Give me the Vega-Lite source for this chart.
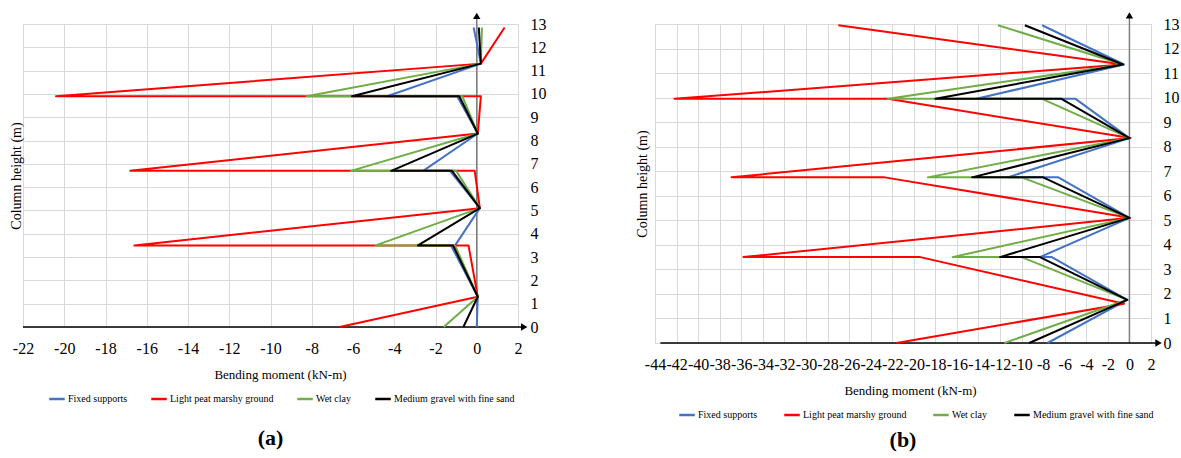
{
  "$schema": "https://vega.github.io/schema/vega-lite/v6.json",
  "background": "white",
  "padding": {"left": 8, "top": 11, "right": 0, "bottom": 0},
  "bounds": "flush",
  "spacing": 137,
  "config": {
    "view": {"stroke": "#d9d9d9", "strokeWidth": 1},
    "axis": {"domain": false, "ticks": false, "gridColor": "#d9d9d9", "gridWidth": 1, "labelFont": "Liberation Serif", "labelFontSize": 16, "labelColor": "#000000", "titleFont": "Liberation Serif", "titleFontWeight": "normal", "titleColor": "#000000", "labelOverlap": false, "labelFlush": false, "labelBound": false},
    "legend": {"labelFont": "Liberation Serif", "labelFontSize": 10, "labelColor": "#000000", "symbolType": "stroke", "symbolStrokeWidth": 2.5, "symbolSize": 240, "labelOffset": 2}
  },
  "datasets": {
    "a": [
      {"s": "Fixed supports", "i": 0, "m": 0, "h": 0},
      {"s": "Fixed supports", "i": 1, "m": 0.05, "h": 1.3},
      {"s": "Fixed supports", "i": 2, "m": -1.25, "h": 3.5},
      {"s": "Fixed supports", "i": 3, "m": -1.05, "h": 3.5},
      {"s": "Fixed supports", "i": 4, "m": 0.15, "h": 5.1},
      {"s": "Fixed supports", "i": 5, "m": -1.3, "h": 6.7},
      {"s": "Fixed supports", "i": 6, "m": -2.6, "h": 6.7},
      {"s": "Fixed supports", "i": 7, "m": 0.05, "h": 8.3},
      {"s": "Fixed supports", "i": 8, "m": -0.95, "h": 9.9},
      {"s": "Fixed supports", "i": 9, "m": -4.35, "h": 9.9},
      {"s": "Fixed supports", "i": 10, "m": 0.2, "h": 11.3},
      {"s": "Fixed supports", "i": 11, "m": -0.15, "h": 12.85},
      {"s": "Light peat marshy ground", "i": 0, "m": -6.65, "h": 0},
      {"s": "Light peat marshy ground", "i": 1, "m": 0.05, "h": 1.3},
      {"s": "Light peat marshy ground", "i": 2, "m": -0.4, "h": 3.5},
      {"s": "Light peat marshy ground", "i": 3, "m": -16.6, "h": 3.5},
      {"s": "Light peat marshy ground", "i": 4, "m": 0.15, "h": 5.1},
      {"s": "Light peat marshy ground", "i": 5, "m": -0.1, "h": 6.7},
      {"s": "Light peat marshy ground", "i": 6, "m": -16.8, "h": 6.7},
      {"s": "Light peat marshy ground", "i": 7, "m": 0.05, "h": 8.3},
      {"s": "Light peat marshy ground", "i": 8, "m": 0.2, "h": 9.9},
      {"s": "Light peat marshy ground", "i": 9, "m": -20.4, "h": 9.9},
      {"s": "Light peat marshy ground", "i": 10, "m": 0.2, "h": 11.3},
      {"s": "Light peat marshy ground", "i": 11, "m": 1.35, "h": 12.85},
      {"s": "Wet clay", "i": 0, "m": -1.6, "h": 0},
      {"s": "Wet clay", "i": 1, "m": 0.05, "h": 1.3},
      {"s": "Wet clay", "i": 2, "m": -1.05, "h": 3.5},
      {"s": "Wet clay", "i": 3, "m": -4.9, "h": 3.5},
      {"s": "Wet clay", "i": 4, "m": 0.15, "h": 5.1},
      {"s": "Wet clay", "i": 5, "m": -1.0, "h": 6.7},
      {"s": "Wet clay", "i": 6, "m": -6.1, "h": 6.7},
      {"s": "Wet clay", "i": 7, "m": 0.05, "h": 8.3},
      {"s": "Wet clay", "i": 8, "m": -0.7, "h": 9.9},
      {"s": "Wet clay", "i": 9, "m": -8.25, "h": 9.9},
      {"s": "Wet clay", "i": 10, "m": 0.2, "h": 11.3},
      {"s": "Wet clay", "i": 11, "m": 0.25, "h": 12.85},
      {"s": "Medium gravel with fine sand", "i": 0, "m": -0.65, "h": 0},
      {"s": "Medium gravel with fine sand", "i": 1, "m": 0.05, "h": 1.3},
      {"s": "Medium gravel with fine sand", "i": 2, "m": -1.15, "h": 3.5},
      {"s": "Medium gravel with fine sand", "i": 3, "m": -2.85, "h": 3.5},
      {"s": "Medium gravel with fine sand", "i": 4, "m": 0.15, "h": 5.1},
      {"s": "Medium gravel with fine sand", "i": 5, "m": -1.2, "h": 6.7},
      {"s": "Medium gravel with fine sand", "i": 6, "m": -4.15, "h": 6.7},
      {"s": "Medium gravel with fine sand", "i": 7, "m": 0.05, "h": 8.3},
      {"s": "Medium gravel with fine sand", "i": 8, "m": -0.85, "h": 9.9},
      {"s": "Medium gravel with fine sand", "i": 9, "m": -6.05, "h": 9.9},
      {"s": "Medium gravel with fine sand", "i": 10, "m": 0.2, "h": 11.3},
      {"s": "Medium gravel with fine sand", "i": 11, "m": 0.1, "h": 12.85}
    ],
    "b": [
      {"s": "Fixed supports", "i": 0, "m": -7.6, "h": 0},
      {"s": "Fixed supports", "i": 1, "m": -0.2, "h": 1.76},
      {"s": "Fixed supports", "i": 2, "m": -7.2, "h": 3.5},
      {"s": "Fixed supports", "i": 3, "m": -8.3, "h": 3.5},
      {"s": "Fixed supports", "i": 4, "m": 0, "h": 5.1},
      {"s": "Fixed supports", "i": 5, "m": -6.6, "h": 6.75},
      {"s": "Fixed supports", "i": 6, "m": -11.3, "h": 6.75},
      {"s": "Fixed supports", "i": 7, "m": 0, "h": 8.35},
      {"s": "Fixed supports", "i": 8, "m": -5.0, "h": 9.95},
      {"s": "Fixed supports", "i": 9, "m": -14.2, "h": 9.95},
      {"s": "Fixed supports", "i": 10, "m": -0.5, "h": 11.35},
      {"s": "Fixed supports", "i": 11, "m": -8.1, "h": 12.95},
      {"s": "Light peat marshy ground", "i": 0, "m": -21.6, "h": 0},
      {"s": "Light peat marshy ground", "i": 1, "m": -0.5, "h": 1.6},
      {"s": "Light peat marshy ground", "i": 2, "m": -19.4, "h": 3.5},
      {"s": "Light peat marshy ground", "i": 3, "m": -35.8, "h": 3.5},
      {"s": "Light peat marshy ground", "i": 4, "m": 0.05, "h": 5.1},
      {"s": "Light peat marshy ground", "i": 5, "m": -22.7, "h": 6.75},
      {"s": "Light peat marshy ground", "i": 6, "m": -36.9, "h": 6.75},
      {"s": "Light peat marshy ground", "i": 7, "m": 0.1, "h": 8.35},
      {"s": "Light peat marshy ground", "i": 8, "m": -22.4, "h": 9.95},
      {"s": "Light peat marshy ground", "i": 9, "m": -42.2, "h": 9.95},
      {"s": "Light peat marshy ground", "i": 10, "m": -0.6, "h": 11.35},
      {"s": "Light peat marshy ground", "i": 11, "m": -27.0, "h": 12.95},
      {"s": "Wet clay", "i": 0, "m": -11.6, "h": 0},
      {"s": "Wet clay", "i": 1, "m": -0.2, "h": 1.76},
      {"s": "Wet clay", "i": 2, "m": -10.0, "h": 3.5},
      {"s": "Wet clay", "i": 3, "m": -16.4, "h": 3.5},
      {"s": "Wet clay", "i": 4, "m": 0, "h": 5.1},
      {"s": "Wet clay", "i": 5, "m": -10.0, "h": 6.75},
      {"s": "Wet clay", "i": 6, "m": -18.7, "h": 6.75},
      {"s": "Wet clay", "i": 7, "m": 0, "h": 8.35},
      {"s": "Wet clay", "i": 8, "m": -8.1, "h": 9.95},
      {"s": "Wet clay", "i": 9, "m": -22.4, "h": 9.95},
      {"s": "Wet clay", "i": 10, "m": -0.6, "h": 11.35},
      {"s": "Wet clay", "i": 11, "m": -12.2, "h": 12.95},
      {"s": "Medium gravel with fine sand", "i": 0, "m": -9.3, "h": 0},
      {"s": "Medium gravel with fine sand", "i": 1, "m": -0.2, "h": 1.76},
      {"s": "Medium gravel with fine sand", "i": 2, "m": -8.3, "h": 3.5},
      {"s": "Medium gravel with fine sand", "i": 3, "m": -12.0, "h": 3.5},
      {"s": "Medium gravel with fine sand", "i": 4, "m": 0, "h": 5.1},
      {"s": "Medium gravel with fine sand", "i": 5, "m": -8.0, "h": 6.75},
      {"s": "Medium gravel with fine sand", "i": 6, "m": -14.6, "h": 6.75},
      {"s": "Medium gravel with fine sand", "i": 7, "m": 0, "h": 8.35},
      {"s": "Medium gravel with fine sand", "i": 8, "m": -6.3, "h": 9.95},
      {"s": "Medium gravel with fine sand", "i": 9, "m": -18.0, "h": 9.95},
      {"s": "Medium gravel with fine sand", "i": 10, "m": -0.6, "h": 11.35},
      {"s": "Medium gravel with fine sand", "i": 11, "m": -9.7, "h": 12.95}
    ]
  },
  "resolve": {"legend": {"color": "independent"}, "scale": {"color": "independent"}},
  "hconcat": [
    {
      "width": 495,
      "height": 303,
      "title": {"text": "(a)", "orient": "bottom", "font": "Liberation Serif", "fontSize": 22, "fontWeight": "bold", "color": "#000000", "offset": 24},
      "resolve": {"axis": {"y": "independent"}},
      "layer": [
        {
          "data": {"values": [{"x": 0, "y": 0, "y2": 13.3}]},
          "mark": {"type": "rule", "color": "#7f7f7f", "strokeWidth": 1.5},
          "encoding": {
            "x": {"field": "x", "type": "quantitative", "scale": {"domain": [-22, 2], "nice": false, "zero": false}, "title": "Bending moment (kN-m)", "axis": {"values": [-22,-20,-18,-16,-14,-12,-10,-8,-6,-4,-2,0,2], "labelExpr": "'' + datum.value", "labelFont": "Liberation Serif", "labelFontSize": 16, "labelOverlap": false, "grid": true, "labelPadding": 13, "titlePadding": 12, "titleFontSize": 13, "titleX": 257}},
            "y": {"field": "y", "type": "quantitative", "scale": {"domain": [0, 13], "nice": false}, "axis": {"orient": "right", "grid": false, "values": [0,1,2,3,4,5,6,7,8,9,10,11,12,13], "labelPadding": 12, "labelFont": "Liberation Serif", "labelFontSize": 16, "labelOverlap": false, "title": null}},
            "y2": {"field": "y2"}
          }
        },
        {
          "data": {"values": [{"x": -22, "x2": 2.25, "y": 0}]},
          "mark": {"type": "rule", "color": "#000000", "strokeWidth": 1.5},
          "encoding": {
            "x": {"field": "x", "type": "quantitative", "title": "Bending moment (kN-m)", "axis": {"values": [-22,-20,-18,-16,-14,-12,-10,-8,-6,-4,-2,0,2], "labelExpr": "'' + datum.value", "labelFont": "Liberation Serif", "labelFontSize": 16, "labelOverlap": false, "grid": true, "labelPadding": 13, "titlePadding": 12, "titleFontSize": 13, "titleX": 257}},
            "x2": {"field": "x2"},
            "y": {"field": "y", "type": "quantitative", "axis": null}
          }
        },
        {
          "data": {"name": "a"},
          "mark": {"type": "line", "strokeWidth": 2, "strokeJoin": "round"},
          "encoding": {
            "x": {"field": "m", "type": "quantitative", "title": "Bending moment (kN-m)", "axis": {"values": [-22,-20,-18,-16,-14,-12,-10,-8,-6,-4,-2,0,2], "labelExpr": "'' + datum.value", "labelFont": "Liberation Serif", "labelFontSize": 16, "labelOverlap": false, "grid": true, "labelPadding": 13, "titlePadding": 12, "titleFontSize": 13, "titleX": 257}},
            "y": {"field": "h", "type": "quantitative", "axis": {"orient": "left", "grid": true, "values": [0,1,2,3,4,5,6,7,8,9,10,11,12,13], "labels": false, "title": "Column height (m)", "titleFontSize": 14, "titlePadding": 0, "minExtent": 0}},
            "color": {"field": "s", "type": "nominal", "scale": {"domain": ["Fixed supports", "Light peat marshy ground", "Wet clay", "Medium gravel with fine sand"], "range": ["#4472C4", "#FF0000", "#70AD47", "#000000"]}, "legend": {"orient": "none", "legendX": 25, "legendY": 366, "direction": "horizontal", "columns": 4, "title": null, "columnPadding": 18}},
            "order": {"field": "i", "type": "quantitative"}
          }
        },
        {
          "data": {"values": [{"x": 0, "y": 13.35, "shape": "up"}, {"x": 2.3, "y": 0, "shape": "right"}]},
          "mark": {"type": "point", "filled": true, "color": "#000000", "size": 55, "opacity": 1},
          "encoding": {
            "x": {"field": "x", "type": "quantitative", "title": "Bending moment (kN-m)", "axis": {"values": [-22,-20,-18,-16,-14,-12,-10,-8,-6,-4,-2,0,2], "labelExpr": "'' + datum.value", "labelFont": "Liberation Serif", "labelFontSize": 16, "labelOverlap": false, "grid": true, "labelPadding": 13, "titlePadding": 12, "titleFontSize": 13, "titleX": 257}},
            "y": {"field": "y", "type": "quantitative", "axis": null},
            "shape": {"field": "shape", "type": "nominal", "scale": {"domain": ["up", "right"], "range": ["triangle-up", "triangle-right"]}, "legend": null}
          }
        }
      ]
    },
    {
      "width": 496,
      "height": 319,
      "title": {"text": "(b)", "orient": "bottom", "font": "Liberation Serif", "fontSize": 22, "fontWeight": "bold", "color": "#000000", "offset": 10},
      "resolve": {"axis": {"y": "independent"}},
      "layer": [
        {
          "data": {"values": [{"x": 0, "y": 0, "y2": 13.3}]},
          "mark": {"type": "rule", "color": "#7f7f7f", "strokeWidth": 1.5},
          "encoding": {
            "x": {"field": "x", "type": "quantitative", "scale": {"domain": [-44, 2], "nice": false, "zero": false}, "title": "Bending moment (kN-m)", "axis": {"values": [-44,-42,-40,-38,-36,-34,-32,-30,-28,-26,-24,-22,-20,-18,-16,-14,-12,-10,-8,-6,-4,-2,0,2], "labelExpr": "'' + datum.value", "labelFont": "Liberation Serif", "labelFontSize": 16, "labelOverlap": false, "grid": true, "labelPadding": 13, "titlePadding": 12, "titleFontSize": 13, "titleX": 255}},
            "y": {"field": "y", "type": "quantitative", "scale": {"domain": [0, 13], "nice": false}, "axis": {"orient": "right", "grid": false, "values": [0,1,2,3,4,5,6,7,8,9,10,11,12,13], "labelPadding": 12, "labelFont": "Liberation Serif", "labelFontSize": 16, "labelOverlap": false, "title": null}},
            "y2": {"field": "y2"}
          }
        },
        {
          "data": {"values": [{"x": -43.5, "x2": 2.6, "y": 0}]},
          "mark": {"type": "rule", "color": "#000000", "strokeWidth": 1.5},
          "encoding": {
            "x": {"field": "x", "type": "quantitative", "title": "Bending moment (kN-m)", "axis": {"values": [-44,-42,-40,-38,-36,-34,-32,-30,-28,-26,-24,-22,-20,-18,-16,-14,-12,-10,-8,-6,-4,-2,0,2], "labelExpr": "'' + datum.value", "labelFont": "Liberation Serif", "labelFontSize": 16, "labelOverlap": false, "grid": true, "labelPadding": 13, "titlePadding": 12, "titleFontSize": 13, "titleX": 255}},
            "x2": {"field": "x2"},
            "y": {"field": "y", "type": "quantitative", "axis": null}
          }
        },
        {
          "data": {"name": "b"},
          "mark": {"type": "line", "strokeWidth": 2, "strokeJoin": "round"},
          "encoding": {
            "x": {"field": "m", "type": "quantitative", "title": "Bending moment (kN-m)", "axis": {"values": [-44,-42,-40,-38,-36,-34,-32,-30,-28,-26,-24,-22,-20,-18,-16,-14,-12,-10,-8,-6,-4,-2,0,2], "labelExpr": "'' + datum.value", "labelFont": "Liberation Serif", "labelFontSize": 16, "labelOverlap": false, "grid": true, "labelPadding": 13, "titlePadding": 12, "titleFontSize": 13, "titleX": 255}},
            "y": {"field": "h", "type": "quantitative", "axis": {"orient": "left", "grid": true, "values": [0,1,2,3,4,5,6,7,8,9,10,11,12,13], "labels": false, "title": "Column height (m)", "titleFontSize": 14, "titlePadding": 6, "minExtent": 0}},
            "color": {"field": "s", "type": "nominal", "scale": {"domain": ["Fixed supports", "Light peat marshy ground", "Wet clay", "Medium gravel with fine sand"], "range": ["#4472C4", "#FF0000", "#70AD47", "#000000"]}, "legend": {"orient": "none", "legendX": 23, "legendY": 382, "direction": "horizontal", "columns": 4, "title": null, "columnPadding": 21}},
            "order": {"field": "i", "type": "quantitative"}
          }
        },
        {
          "data": {"values": [{"x": 0, "y": 13.35, "shape": "up"}, {"x": 2.7, "y": 0, "shape": "right"}]},
          "mark": {"type": "point", "filled": true, "color": "#000000", "size": 55, "opacity": 1},
          "encoding": {
            "x": {"field": "x", "type": "quantitative", "title": "Bending moment (kN-m)", "axis": {"values": [-44,-42,-40,-38,-36,-34,-32,-30,-28,-26,-24,-22,-20,-18,-16,-14,-12,-10,-8,-6,-4,-2,0,2], "labelExpr": "'' + datum.value", "labelFont": "Liberation Serif", "labelFontSize": 16, "labelOverlap": false, "grid": true, "labelPadding": 13, "titlePadding": 12, "titleFontSize": 13, "titleX": 255}},
            "y": {"field": "y", "type": "quantitative", "axis": null},
            "shape": {"field": "shape", "type": "nominal", "scale": {"domain": ["up", "right"], "range": ["triangle-up", "triangle-right"]}, "legend": null}
          }
        }
      ]
    }
  ]
}
